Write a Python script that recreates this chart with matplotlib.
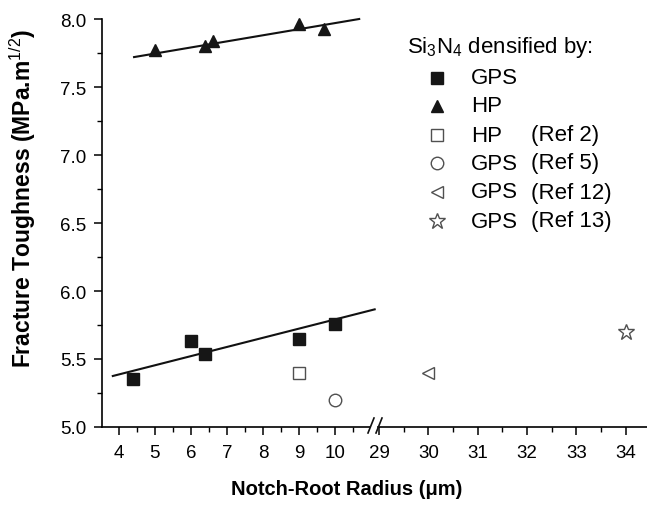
import numpy as np
import matplotlib
matplotlib.use('Agg')
import matplotlib.pyplot as plt
from matplotlib.lines import Line2D

plt.rcParams['font.family'] = ['Liberation Sans', 'DejaVu Sans']
plt.rcParams['mathtext.fontset'] = 'custom'
plt.rcParams['mathtext.rm'] = 'Liberation Sans'
plt.rcParams['mathtext.it'] = 'Liberation Sans:italic'
plt.rcParams['mathtext.bf'] = 'Liberation Sans:bold'

# data
gps_x = [4.4, 6.0, 6.4, 9.0, 10.0]
gps_y = [5.35, 5.63, 5.54, 5.65, 5.76]
hp_x = [5.0, 6.4, 6.6, 9.0, 9.7]
hp_y = [7.77, 7.80, 7.84, 7.96, 7.93]
hp_ref2_x = [9.0]
hp_ref2_y = [5.40]
gps_ref5_x = [10.0]
gps_ref5_y = [5.20]
gps_ref12_x = [30.0]
gps_ref12_y = [5.40]
gps_ref13_x = [34.0]
gps_ref13_y = [5.70]

# fitted lines (end points)
gps_fit_x = [3.83, 11.1]
gps_fit_y = [5.375, 5.865]
hp_fit_x = [4.42, 10.67]
hp_fit_y = [7.72, 8.0]

left_ticks = [4, 5, 6, 7, 8, 9, 10]
right_ticks = [29, 30, 31, 32, 33, 34]
y_ticks = [5.0, 5.5, 6.0, 6.5, 7.0, 7.5, 8.0]

legend_names = ['GPS', 'HP', 'HP', 'GPS', 'GPS', 'GPS']
legend_refs = ['', '', '(Ref 2)', '(Ref 5)', '(Ref 12)', '(Ref 13)']

W, H = 647, 506
fig = plt.figure(figsize=(W / 100, H / 100), dpi=100)


def box(x0, x1, top=20, bottom=428):
    return [x0 / W, 1 - bottom / H, (x1 - x0) / W, (bottom - top) / H]


def fx(px):
    return px / W


def fy(py):
    return 1 - py / H


ax1 = fig.add_axes(box(102, 370))
ax2 = fig.add_axes(box(378, 647), sharey=ax1)

solid = dict(color='#161616', linestyle='none')
hollow = dict(color='#505050', mfc='none', mew=1.0, linestyle='none')

ax1.plot(gps_fit_x, gps_fit_y, color='#111111', lw=1.5, clip_on=False)
ax1.plot(hp_fit_x, hp_fit_y, color='#111111', lw=1.5, clip_on=False)
ax1.plot(gps_x, gps_y, marker='s', ms=8.5, **solid)
ax1.plot(hp_x, hp_y, marker='^', ms=8.5, **solid, clip_on=False)
ax1.plot(hp_ref2_x, hp_ref2_y, marker='s', ms=8, **hollow)
ax1.plot(gps_ref5_x, gps_ref5_y, marker='o', ms=9, **hollow)
ax2.plot(gps_ref12_x, gps_ref12_y, marker='<', ms=9, **hollow)
ax2.plot(gps_ref13_x, gps_ref13_y, marker='*', ms=12, **hollow)

ax1.set_xlim(3.53, 10.97)
ax2.set_xlim(28.98, 34.43)
ax1.set_ylim(5.0, 8.0)

ax1.set_xticks(left_ticks)
ax1.set_xticks(np.arange(4.5, 11, 1), minor=True)
ax2.set_xticks(right_ticks)
ax2.set_xticks(np.arange(29.5, 34, 1), minor=True)
ax1.set_yticks(y_ticks)
ax1.set_yticklabels(['%.1f' % v for v in y_ticks])
ax1.set_yticks(np.arange(5.25, 8.0, 0.5), minor=True)

for ax in (ax1, ax2):
    for s in ('top', 'right'):
        ax.spines[s].set_visible(False)
    ax.spines['bottom'].set_linewidth(1.2)
    ax.spines['left'].set_linewidth(1.2)
    ax.tick_params(which='major', direction='out', length=6, width=1.1,
                   labelsize=13.5)
    ax.tick_params(which='minor', direction='out', length=3.5, width=1.0)
    ax.tick_params(axis='x', which='major', pad=6)
    ax.tick_params(axis='y', which='major', pad=5)
    ax.patch.set_alpha(0)

ax2.spines['left'].set_visible(False)
ax2.tick_params(axis='y', which='both', left=False, labelleft=False)

# axis break marks
for x0 in (368, 376):
    fig.add_artist(Line2D([fx(x0), fx(x0 + 6)], [fy(434), fy(419)],
                          color='#111111', lw=1.2, transform=fig.transFigure))

fig.text(fx(23), fy(198), 'Fracture Toughness (MPa.m$^{1/2}$)', rotation=90,
         ha='center', va='center', fontsize=16.5, fontweight='bold')
fig.text(fx(347), fy(490), 'Notch-Root Radius (\u03bcm)',
         ha='center', va='center', fontsize=14.5, fontweight='bold')

# legend
fig.text(fx(407), fy(47), 'Si$_3$N$_4$ densified by:', ha='left', va='center',
         fontsize=16)
markers = [('s', solid, 8.5), ('^', solid, 8.5), ('s', hollow, 8),
           ('o', hollow, 9), ('<', hollow, 9), ('*', hollow, 12)]
row_y = [79, 107, 136, 164, 193, 222]
for (m, st, ms), name, ref, yy in zip(markers, legend_names, legend_refs, row_y):
    fig.add_artist(Line2D([fx(437)], [fy(yy)], marker=m, ms=ms,
                          transform=fig.transFigure, **st))
    fig.text(fx(471), fy(yy), name, ha='left', va='center', fontsize=16)
    if ref:
        fig.text(fx(531), fy(yy), ref, ha='left', va='center', fontsize=16)

fig.savefig('out.png', dpi=100)
